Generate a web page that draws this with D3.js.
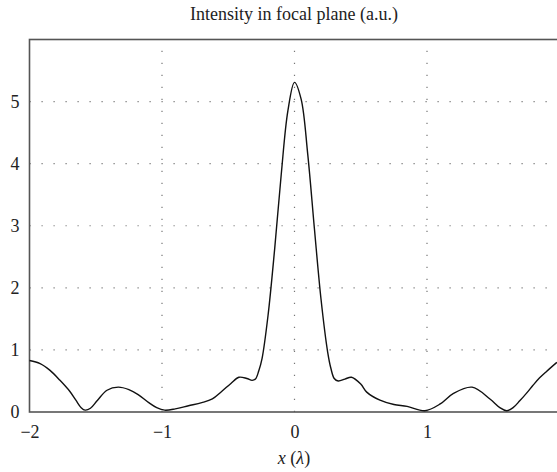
<!DOCTYPE html>
<html>
<head>
<meta charset="utf-8">
<script src="https://cdn.jsdelivr.net/npm/d3@7"></script>
<style>
  body { margin: 0; background: #fff; }
  text { font-family: "Liberation Serif", "DejaVu Serif", serif; fill: #222; }
</style>
</head>
<body>
<div id="chart"></div>
<script>
// Intensity profile (x in wavelengths)
const xs = [-2.00, -1.92, -1.845, -1.77, -1.695, -1.65, -1.61, -1.58, -1.54, -1.49, -1.415, -1.33, -1.25, -1.18, -1.10, -1.04, -0.98,
            -0.90, -0.80, -0.70, -0.62, -0.55, -0.48, -0.42, -0.36, -0.32, -0.295, -0.27, -0.245,
            -0.20, -0.15, -0.10, -0.05, 0.00, 0.05, 0.10, 0.15, 0.20, 0.25, 0.275, 0.30,
            0.33, 0.38, 0.43, 0.50, 0.545, 0.645, 0.75, 0.85, 0.985, 1.10, 1.20, 1.34, 1.475, 1.55, 1.60,
            1.65, 1.70, 1.75, 1.80, 1.85, 1.90, 1.98];
const intensity = [0.83, 0.78, 0.67, 0.51, 0.33, 0.19, 0.07, 0.03, 0.06, 0.18, 0.35, 0.40, 0.36, 0.28, 0.15, 0.07, 0.03,
            0.05, 0.10, 0.15, 0.21, 0.33, 0.46, 0.56, 0.54, 0.51, 0.53, 0.66, 0.86,
            1.55, 2.62, 3.83, 4.85, 5.31, 5.04, 4.15, 2.96, 1.82, 0.97, 0.70, 0.54,
            0.50, 0.53, 0.56, 0.45, 0.32, 0.19, 0.12, 0.09, 0.02, 0.13, 0.30, 0.40, 0.21, 0.07, 0.02,
            0.07, 0.18, 0.30, 0.43, 0.55, 0.65, 0.80];
const xTicks = [-2, -1, 0, 1];
const yTicks = [0, 1, 2, 3, 4, 5];
const xGrid = [-1, 0, 1];
const yGrid = [1, 2, 3, 4, 5];

const W = 557, H = 472;
const margin = { top: 39.5, right: -2.5, bottom: 60, left: 29.5 };

const svg = d3.select("#chart").append("svg")
    .attr("width", W)
    .attr("height", H);

const x = d3.scaleLinear().domain([-2, 2]).range([margin.left, W - margin.right]);
const y = d3.scaleLinear().domain([0, 6]).range([H - margin.bottom, margin.top]);

// dotted grid
svg.append("g").selectAll("line")
    .data(xGrid)
    .join("line")
    .attr("x1", d => x(d)).attr("x2", d => x(d))
    .attr("y1", y(0)).attr("y2", y(6))
    .attr("stroke", "#777").attr("stroke-width", 1.2)
    .attr("stroke-dasharray", "1.2,10.8");

svg.append("g").selectAll("line")
    .data(yGrid)
    .join("line")
    .attr("x1", x(-2)).attr("x2", x(2))
    .attr("y1", d => y(d)).attr("y2", d => y(d))
    .attr("stroke", "#777").attr("stroke-width", 1.2)
    .attr("stroke-dasharray", "1.2,10.8");

// frame
svg.append("rect")
    .attr("x", x(-2)).attr("y", y(6))
    .attr("width", x(2) - x(-2)).attr("height", y(0) - y(6))
    .attr("fill", "none").attr("stroke", "#555").attr("stroke-width", 1.6);

// axes (labels only, the frame draws the lines)
const xAxis = svg.append("g")
    .attr("transform", `translate(0,${y(0)})`)
    .call(d3.axisBottom(x).tickValues(xTicks).tickSize(0).tickPadding(13)
        .tickFormat(d => d < 0 ? "\u2212" + Math.abs(d) : d));
xAxis.select(".domain").remove();
xAxis.selectAll("text").style("font-size", "18px").attr("fill", "#222");

const yAxis = svg.append("g")
    .attr("transform", `translate(${x(-2)},0)`)
    .call(d3.axisLeft(y).tickValues(yTicks).tickSize(0).tickPadding(10)
        .tickFormat(d3.format("d")));
yAxis.select(".domain").remove();
yAxis.selectAll("text").style("font-size", "18px").attr("fill", "#222");

// curve
const line = d3.line()
    .x((d, i) => x(xs[i]))
    .y(d => y(d))
    .curve(d3.curveCatmullRom.alpha(0.5));

svg.append("path")
    .datum(intensity)
    .attr("d", line)
    .attr("fill", "none")
    .attr("stroke", "#111")
    .attr("stroke-width", 1.4);

// titles
svg.append("text")
    .attr("x", 294).attr("y", 20)
    .attr("text-anchor", "middle")
    .style("font-size", "18px")
    .text("Intensity in focal plane (a.u.)");

const xl = svg.append("text")
    .attr("x", 294).attr("y", 464)
    .attr("text-anchor", "middle")
    .style("font-size", "18px");
xl.append("tspan").style("font-style", "italic").text("x");
xl.append("tspan").text(" (");
xl.append("tspan").style("font-style", "italic").text("\u03bb");
xl.append("tspan").text(")");
</script>
</body>
</html>
